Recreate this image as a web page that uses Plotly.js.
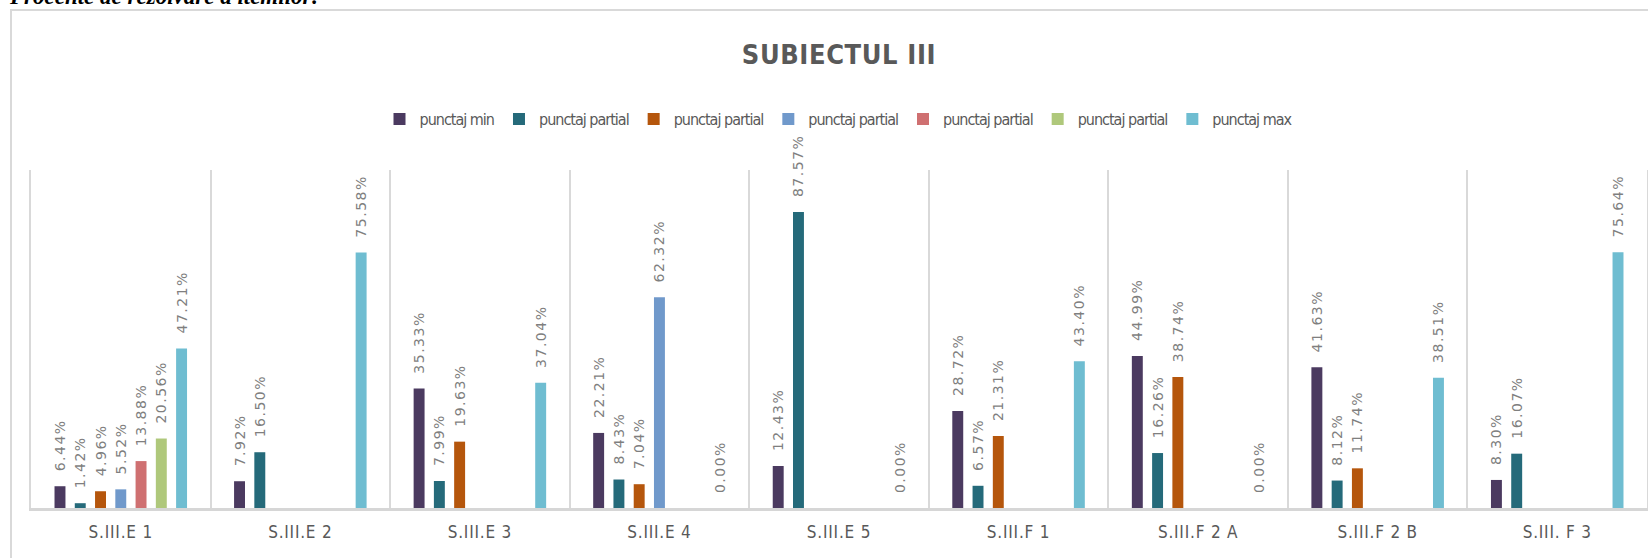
<!DOCTYPE html>
<html>
<head>
<meta charset="utf-8">
<script src="https://cdn.plot.ly/plotly-3.0.1.min.js"></script>
<style>
  html, body { margin: 0; padding: 0; background: #ffffff; }
  #wrap { position: relative; width: 1648px; height: 558px; overflow: hidden; }
  #chart { position: absolute; left: 0; top: 0; width: 1648px; height: 558px; }
  #frame { position: absolute; left: 10px; top: 9px; width: 1700px; height: 700px;
           border: 2px solid #d9d9d9; pointer-events: none; box-sizing: border-box; }
  .bartext { letter-spacing: 1.5px; }
  .xtick text { letter-spacing: 0.8px; }
  .gtitle { letter-spacing: 0.6px; }
  .legendtext { letter-spacing: -1px; }
</style>
</head>
<body>
<div id="wrap">
  <div id="chart"></div>
  <div id="frame"></div>
</div>
<script>
const categories = ["S.III.E 1", "S.III.E 2", "S.III.E 3", "S.III.E 4", "S.III.E 5",
                    "S.III.F 1", "S.III.F 2 A", "S.III.F 2 B", "S.III. F 3"];

const punctajMin   = [6.44, 7.92, 35.33, 22.21, 12.43, 28.72, 44.99, 41.63, 8.30];
const partial1     = [1.42, 16.50, 7.99, 8.43, 87.57, 6.57, 16.26, 8.12, 16.07];
const partial2     = [4.96, null, 19.63, 7.04, null, 21.31, 38.74, 11.74, null];
const partial3     = [5.52, null, null, 62.32, null, null, null, null, null];
const partial4     = [13.88, null, null, null, null, null, null, null, null];
const partial5     = [20.56, null, null, null, null, null, null, null, null];
const punctajMax   = [47.21, 75.58, 37.04, 0.00, 0.00, 43.40, 0.00, 38.51, 75.64];

const seriesNames  = ["punctaj min", "punctaj partial", "punctaj partial", "punctaj partial",
                      "punctaj partial", "punctaj partial", "punctaj max"];
const seriesValues = [punctajMin, partial1, partial2, partial3, partial4, partial5, punctajMax];
const seriesColors = ["#4b3a60", "#256a7a", "#b5560c", "#7099cb", "#cf7071", "#afc87b", "#6fbdd1"];

const narrow = "Liberation Sans Narrow, DejaVu Sans Condensed, Arial Narrow, sans-serif";

const traces = seriesValues.map((vals, i) => ({
  type: "bar",
  name: seriesNames[i],
  x: categories,
  y: vals,
  marker: { color: seriesColors[i] },
  text: vals.map(v => (v === null ? "" : "\u00a0\u00a0" + v.toFixed(2) + "%")),
  textposition: "outside",
  textangle: -90,
  constraintext: "none",
  cliponaxis: false,
  textfont: { family: "DejaVu Sans, sans-serif", size: 14, color: "#7f7f7f" },
  hoverinfo: "x+y+name"
}));

const layout = {
  width: 1648,
  height: 558,
  margin: { l: 31, r: 1, t: 170, b: 50 },
  paper_bgcolor: "#ffffff",
  plot_bgcolor: "#ffffff",
  barmode: "group",
  bargap: 0.21,
  bargroupgap: 0.46,
  showlegend: true,
  title: {
    text: "<b>SUBIECTUL III</b>",
    x: 0.5, xanchor: "center", xref: "paper",
    y: 1 - 55 / 558, yanchor: "middle",
    font: { family: narrow, size: 27, color: "#595959" }
  },
  legend: {
    orientation: "h",
    x: 0.5, xanchor: "center",
    y: 1 + (170 - 119) / 338, yanchor: "middle",
    font: { family: narrow, size: 16, color: "#595959" },
    itemwidth: 30,
    traceorder: "normal"
  },
  xaxis: {
    type: "category",
    tickson: "boundaries",
    showgrid: true,
    gridcolor: "#d9d9d9",
    gridwidth: 1.5,
    showline: true,
    linecolor: "#d6d6d6",
    linewidth: 2.5,
    ticks: "",
    ticklabelstandoff: 7,
    tickfont: { family: narrow, size: 17, color: "#595959" },
    fixedrange: true
  },
  yaxis: {
    range: [0, 100],
    showgrid: false,
    zeroline: false,
    showticklabels: false,
    showline: true,
    mirror: true,
    linecolor: "#d9d9d9",
    linewidth: 1.5,
    ticks: "",
    fixedrange: true
  },
  annotations: [{
    text: "<b><i>Procente de rezolvare a itemilor:</i></b>",
    xref: "paper", yref: "paper",
    x: (7 - 31) / 1616, xanchor: "left",
    y: 1 + (170 - 11) / 338, yanchor: "bottom",
    showarrow: false,
    font: { family: "Liberation Serif, Times New Roman, serif", size: 23, color: "#000000" }
  }]
};

Plotly.newPlot("chart", traces, layout, { displayModeBar: false, staticPlot: false });
</script>
</body>
</html>
